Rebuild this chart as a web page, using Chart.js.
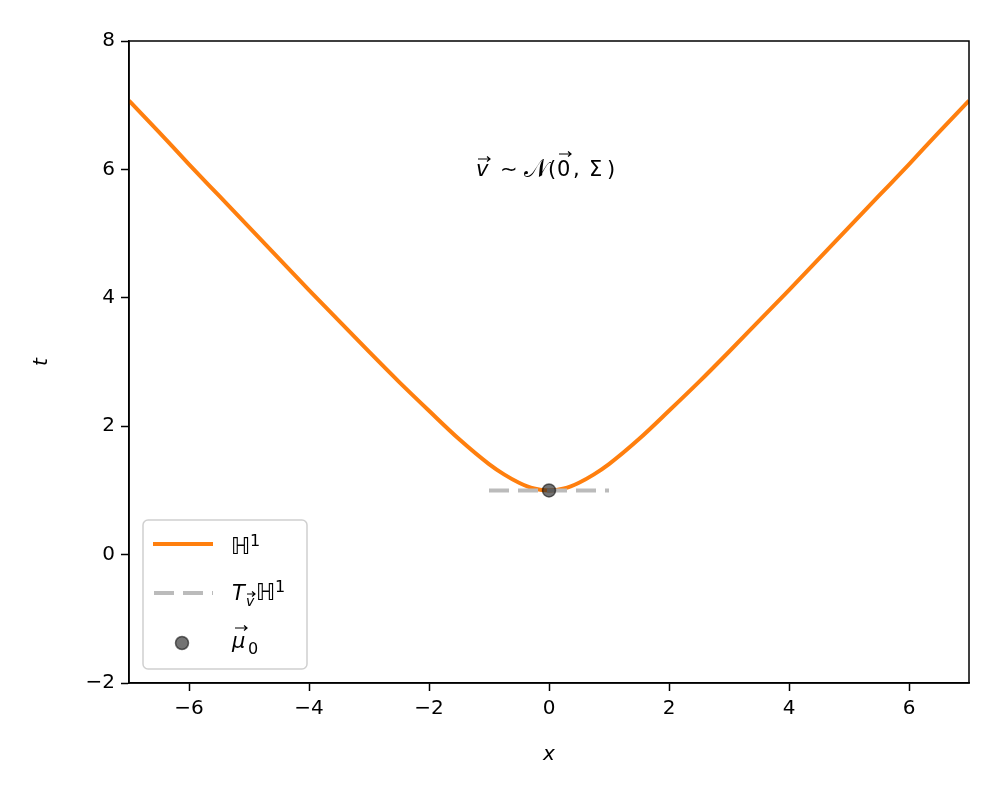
<!DOCTYPE html>
<html>
<head>
<meta charset="utf-8">
<script src="https://cdn.jsdelivr.net/npm/chart.js@4"></script>
<style>
  html, body { margin: 0; padding: 0; background: #fff; }
  #wrap { width: 1000px; height: 800px; }
</style>
</head>
<body>
<div id="wrap"><canvas id="chart" width="1000" height="800"></canvas></div>
<script>
// hyperbola H^1
const curveX = [-7, -6.5, -6, -5.5, -5, -4.5, -4, -3.5, -3, -2.5, -2, -1.5, -1, -0.75, -0.5, -0.25, 0,
  0.25, 0.5, 0.75, 1, 1.5, 2, 2.5, 3, 3.5, 4, 4.5, 5, 5.5, 6, 6.5, 7]
const curveT = [7.07, 6.58, 6.08, 5.59, 5.10, 4.61, 4.12, 3.64, 3.16, 2.69, 2.24, 1.80, 1.41, 1.25, 1.12, 1.03, 1.00,
  1.03, 1.12, 1.25, 1.41, 1.80, 2.24, 2.69, 3.16, 3.64, 4.12, 4.61, 5.10, 5.59, 6.08, 6.58, 7.07]

// tangent line at mu_0
const tangentX = [-1, 1]
const tangentT = [1, 1]

// mean point
const muX = [0]
const muT = [1]

const xTicks = [-6, -4, -2, 0, 2, 4, 6]
const yTicks = [-2, 0, 2, 4, 6, 8]

const toPts = (xs, ys) => xs.map((x, i) => ({ x: x, y: ys[i] }))

const FONT = "'DejaVu Sans', sans-serif"

// small helper: text piece at x, baseline y
function put(ctx, s, x, y, font) {
  ctx.font = font + " " + FONT
  ctx.fillText(s, x, y)
}

// arrow accent from x0 to x1
function arrow(ctx, x0, x1, y) {
  ctx.save()
  ctx.strokeStyle = "#000"
  ctx.lineWidth = 1.2
  ctx.beginPath()
  ctx.moveTo(x0, y)
  ctx.lineTo(x1, y)
  ctx.moveTo(x1 - 3, y - 2.5)
  ctx.lineTo(x1, y)
  ctx.lineTo(x1 - 3, y + 2.5)
  ctx.stroke()
  ctx.restore()
}

// axis titles, annotation and the legend box
const overlay = {
  id: "overlay",
  afterDraw(chart) {
    const ctx = chart.ctx
    ctx.save()
    ctx.fillStyle = "#000"
    ctx.textAlign = "center"
    ctx.textBaseline = "middle"
    ctx.font = "italic 20px " + FONT
    ctx.fillText("x", 549, 755)
    ctx.save()
    ctx.translate(42, 362)
    ctx.rotate(-Math.PI / 2)
    ctx.fillText("t", 0, 0)
    ctx.restore()

    // annotation v ~ N(0, Σ)
    ctx.textAlign = "left"
    ctx.textBaseline = "alphabetic"
    put(ctx, "v", 476, 176, "italic 21px")
    arrow(ctx, 478, 490, 159)
    put(ctx, "∼", 500, 176, "21px")
    put(ctx, "𝒩", 524, 177, "25px")
    put(ctx, "(", 548, 176, "21px")
    put(ctx, "0", 557, 176, "21px")
    arrow(ctx, 559, 571, 154)
    put(ctx, ",", 573, 176, "21px")
    put(ctx, "Σ", 589, 176, "21px")
    put(ctx, ")", 607, 176, "21px")

    // legend
    const bx = 143, by = 520, bw = 164, bh = 149
    ctx.beginPath()
    ctx.roundRect(bx, by, bw, bh, 5)
    ctx.fillStyle = "rgba(255,255,255,0.8)"
    ctx.fill()
    ctx.strokeStyle = "#d0d0d0"
    ctx.lineWidth = 1.5
    ctx.stroke()

    ctx.lineWidth = 4
    ctx.strokeStyle = "#ff7f0e"
    ctx.beginPath()
    ctx.moveTo(153, 544)
    ctx.lineTo(213, 544)
    ctx.stroke()

    ctx.strokeStyle = "#bbbbbb"
    ctx.setLineDash([20, 9])
    ctx.beginPath()
    ctx.moveTo(154, 593)
    ctx.lineTo(213, 593)
    ctx.stroke()
    ctx.setLineDash([])

    ctx.beginPath()
    ctx.arc(182, 643, 6.5, 0, Math.PI * 2)
    ctx.fillStyle = "rgba(40,40,40,0.65)"
    ctx.fill()
    ctx.lineWidth = 1.5
    ctx.strokeStyle = "rgba(0,0,0,0.55)"
    ctx.stroke()

    ctx.fillStyle = "#000"
    put(ctx, "ℍ", 231, 554, "italic 23px")
    put(ctx, "1", 250, 546, "16px")

    put(ctx, "T", 232, 600, "italic 21px")
    put(ctx, "v", 246, 606, "italic 14px")
    arrow(ctx, 247, 255, 594)
    put(ctx, "ℍ", 256, 600, "italic 23px")
    put(ctx, "1", 275, 592, "16px")

    put(ctx, "μ", 232, 648, "italic 21px")
    arrow(ctx, 235, 247, 628)
    put(ctx, "0", 248, 654, "16px")
    ctx.restore()
  },
}

new Chart(document.getElementById("chart").getContext("2d"), {
  type: "scatter",
  data: {
    datasets: [
      {
        label: "H1",
        data: toPts(curveX, curveT),
        showLine: true,
        borderColor: "#ff7f0e",
        borderWidth: 4,
        pointRadius: 0,
        cubicInterpolationMode: "monotone",
        order: 3,
      },
      {
        label: "tangent",
        data: toPts(tangentX, tangentT),
        showLine: true,
        borderColor: "#bbbbbb",
        borderWidth: 4,
        borderDash: [20, 9],
        pointRadius: 0,
        order: 2,
      },
      {
        label: "mu0",
        data: toPts(muX, muT),
        pointRadius: 6.5,
        backgroundColor: "rgba(40,40,40,0.65)",
        borderColor: "rgba(0,0,0,0.55)",
        borderWidth: 1.5,
        order: 1,
      },
    ],
  },
  options: {
    responsive: false,
    animation: false,
    layout: { padding: { top: 41, right: 31, left: 0, bottom: 0 } },
    plugins: { legend: { display: false }, tooltip: { enabled: false } },
    scales: {
      x: {
        type: "linear",
        min: -7,
        max: 7,
        afterBuildTicks: (axis) => { axis.ticks = xTicks.map((v) => ({ value: v })) },
        afterFit: (axis) => { axis.height = 117 },
        ticks: {
          color: "#000",
          font: { family: FONT, size: 20 },
          padding: 6,
          callback: (v) => String(v).replace("-", "\u2212"),
        },
        grid: { drawOnChartArea: false, color: "#000", tickLength: 8, tickWidth: 1.5 },
        border: { color: "#000", width: 1.5 },
      },
      y: {
        type: "linear",
        min: -2,
        max: 8,
        afterBuildTicks: (axis) => { axis.ticks = yTicks.map((v) => ({ value: v })) },
        afterFit: (axis) => { axis.width = 129 },
        ticks: {
          color: "#000",
          font: { family: FONT, size: 20 },
          padding: 6,
          callback: (v) => String(v).replace("-", "\u2212"),
        },
        grid: { drawOnChartArea: false, color: "#000", tickLength: 8, tickWidth: 1.5 },
        border: { color: "#000", width: 1.5 },
      },
    },
  },
  plugins: [
    overlay,
    {
      id: "frame",
      afterDraw(chart) {
        const a = chart.chartArea
        const ctx = chart.ctx
        ctx.save()
        ctx.strokeStyle = "#000"
        ctx.lineWidth = 1.5
        ctx.strokeRect(a.left, a.top, a.right - a.left, a.bottom - a.top)
        ctx.restore()
      },
    },
  ],
})
</script>
</body>
</html>
